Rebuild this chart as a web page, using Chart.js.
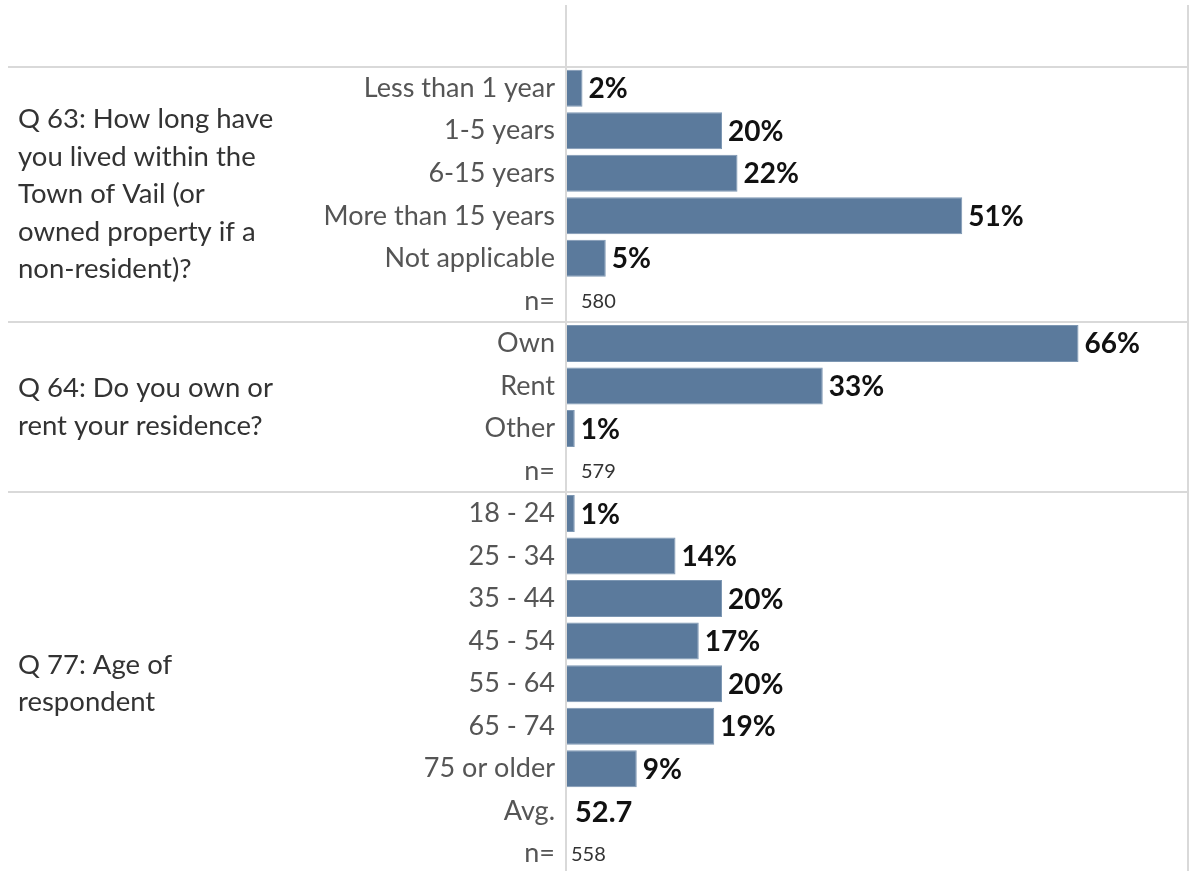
<!DOCTYPE html>
<html lang="en">
<head>
    <meta charset="UTF-8">
    <title>Town of Vail survey</title>
    <script src="https://cdn.jsdelivr.net/npm/chart.js"></script>
    <style>
        html, body { margin: 0; padding: 0; background: #fff; overflow: hidden; }
        #grafico { position: absolute; left: 0; top: 0; }
    </style>
</head>
<body>
    <canvas id="grafico" width="1189" height="875"></canvas>

<script>
    // Q 63
    const q63Titulo = ['Q 63: How long have', 'you lived within the', 'Town of Vail (or', 'owned property if a', 'non-resident)?'];
    const q63Labels = ['Less than 1 year', '1-5 years', '6-15 years', 'More than 15 years', 'Not applicable'];
    const q63Valores = [2, 20, 22, 51, 5];
    const q63N = 580;

    // Q 64
    const q64Titulo = ['Q 64: Do you own or', 'rent your residence?'];
    const q64Labels = ['Own', 'Rent', 'Other'];
    const q64Valores = [66, 33, 1];
    const q64N = 579;

    // Q 77
    const q77Titulo = ['Q 77: Age of', 'respondent'];
    const q77Labels = ['18 - 24', '25 - 34', '35 - 44', '45 - 54', '55 - 64', '65 - 74', '75 or older'];
    const q77Valores = [1, 14, 20, 17, 20, 19, 9];
    const q77Media = 52.7;
    const q77N = 558;

    const FONTE = 'Lato, "Noto Sans", sans-serif';

    // monta as linhas do grafico
    let labels = [];
    let valores = [];
    let textos = [];   // {tipo, texto}
    let grupos = [];

    function addGrupo(titulo, cats, vals, extras, nOffset) {
        const inicio = labels.length;
        for (let i = 0; i < cats.length; i++) {
            labels.push(cats[i]);
            valores.push(vals[i]);
            textos.push({ tipo: 'valor', texto: vals[i] + '%' });
        }
        for (let i = 0; i < extras.length; i++) {
            labels.push(extras[i].label);
            valores.push(null);
            textos.push(extras[i]);
        }
        grupos.push({ titulo: titulo, inicio: inicio, fim: labels.length, nOffset: nOffset });
    }

    addGrupo(q63Titulo, q63Labels, q63Valores, [{ label: 'n=', tipo: 'n', texto: String(q63N) }], 14);
    addGrupo(q64Titulo, q64Labels, q64Valores, [{ label: 'n=', tipo: 'n', texto: String(q64N) }], 14);
    addGrupo(q77Titulo, q77Labels, q77Valores, [
        { label: 'Avg.', tipo: 'media', texto: String(q77Media) },
        { label: 'n=', tipo: 'n', texto: String(q77N) }
    ], 4);

    const pluginDesenho = {
        id: 'desenho',
        beforeDatasetsDraw(chart) {
            const ctx = chart.ctx;
            const area = chart.chartArea;
            ctx.save();
            ctx.strokeStyle = '#d9d9d9';
            ctx.lineWidth = 2;
            // linhas verticais
            ctx.beginPath();
            ctx.moveTo(area.left - 1, 5);
            ctx.lineTo(area.left - 1, chart.height);
            ctx.moveTo(1188, 5);
            ctx.lineTo(1188, chart.height);
            ctx.stroke();
            // separadores dos grupos
            const passo = (area.bottom - area.top) / labels.length;
            ctx.beginPath();
            grupos.forEach(g => {
                const yy = Math.round(area.top + g.inicio * passo);
                ctx.moveTo(8, yy);
                ctx.lineTo(1189, yy);
            });
            ctx.stroke();

            // titulos
            ctx.fillStyle = '#333333';
            ctx.font = '27.5px ' + FONTE;
            ctx.textAlign = 'left';
            ctx.textBaseline = 'middle';
            grupos.forEach(g => {
                const centro = area.top + (g.inicio + g.fim) / 2 * passo;
                const alt = 37.5;
                const y0 = centro - (g.titulo.length - 1) * alt / 2;
                g.titulo.forEach((linha, i) => ctx.fillText(linha, 18, y0 + i * alt));
            });
            ctx.restore();
        },
        afterDatasetsDraw(chart) {
            const ctx = chart.ctx;
            const x = chart.scales.x;
            const y = chart.scales.y;
            ctx.save();
            ctx.textAlign = 'left';
            ctx.textBaseline = 'middle';
            grupos.forEach(g => {
                for (let i = g.inicio; i < g.fim; i++) {
                    const t = textos[i];
                    const yy = y.getPixelForValue(i) + 1;
                    if (t.tipo === 'valor') {
                        ctx.font = 'bold 28px ' + FONTE;
                        ctx.fillStyle = '#111111';
                        ctx.fillText(t.texto, x.getPixelForValue(valores[i]) + 6, yy);
                    } else if (t.tipo === 'media') {
                        ctx.font = 'bold 29px ' + FONTE;
                        ctx.fillStyle = '#111111';
                        ctx.fillText(t.texto, x.left + 8, yy);
                    } else {
                        ctx.font = '20px ' + FONTE;
                        ctx.fillStyle = '#333333';
                        ctx.fillText(t.texto, x.left + g.nOffset, yy);
                    }
                }
            });
            ctx.restore();
        }
    };

    const ctx = document.getElementById('grafico');
    new Chart(ctx, {
        type: 'bar',
        data: {
            labels: labels,
            datasets: [{
                data: valores,
                backgroundColor: '#5b7a9c',
                borderColor: '#7d97b3',
                borderWidth: 1,
                borderSkipped: 'left',
                categoryPercentage: 1,
                barPercentage: 0.87
            }]
        },
        options: {
            indexAxis: 'y',
            responsive: false,
            animation: false,
            layout: { padding: { top: 67, right: 2, bottom: 0, left: 0 } },
            scales: {
                x: {
                    display: false,
                    min: 0,
                    max: 80
                },
                y: {
                    afterFit: function (scale) {
                        scale.width = 567;
                        scale.paddingTop = 0;
                        scale.paddingBottom = 0;
                    },
                    grid: { display: false, drawTicks: false },
                    border: { display: false },
                    ticks: {
                        padding: 12,
                        autoSkip: false,
                        color: '#555555',
                        font: { size: 27, family: FONTE }
                    }
                }
            },
            plugins: {
                legend: { display: false },
                tooltip: { enabled: false }
            }
        },
        plugins: [pluginDesenho]
    });
</script>
</body>
</html>
